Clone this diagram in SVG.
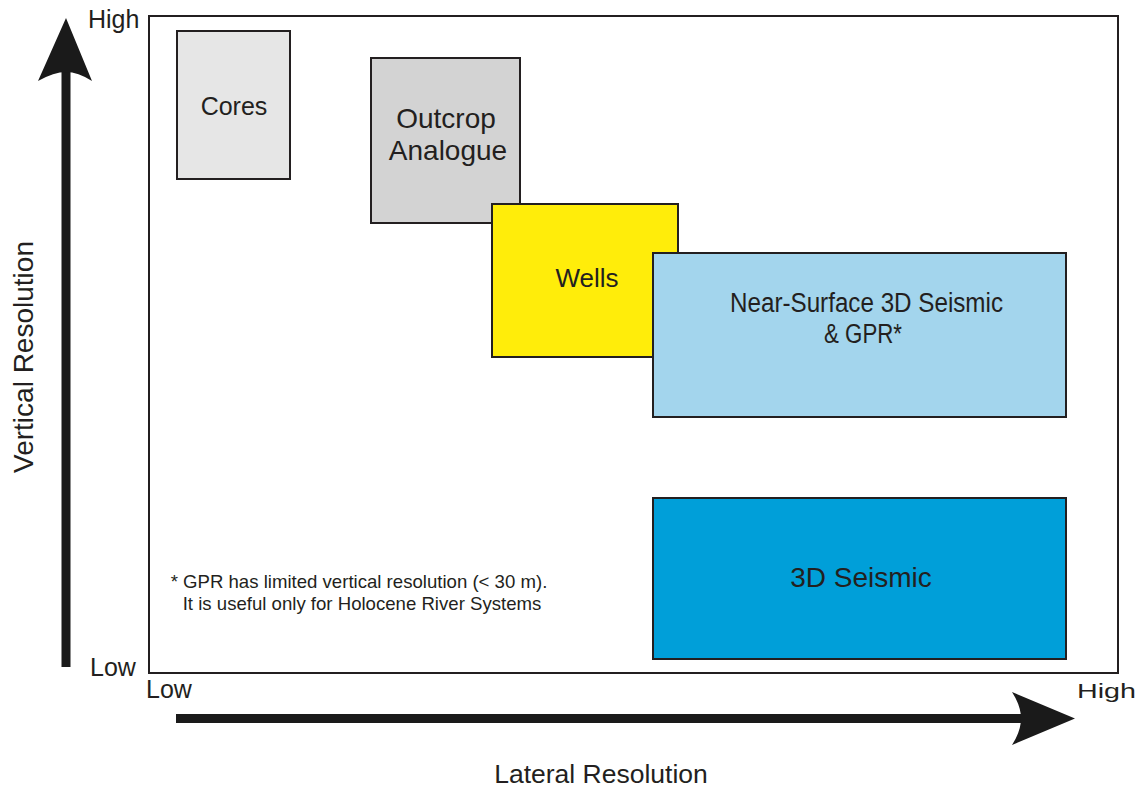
<svg xmlns="http://www.w3.org/2000/svg" width="1146" height="790" viewBox="0 0 1146 790">
  <style>
    text { font-family: "Liberation Sans", Arial, sans-serif; fill: #231f20; }
    .box { stroke: #231f20; stroke-width: 2; }
    .lbl { text-anchor: middle; }
    .axis { fill: #1a1a1a; }
  </style>
  <rect width="1146" height="790" fill="#ffffff"/>

  <!-- plot frame -->
  <rect x="149" y="16" width="969" height="657" fill="none" stroke="#231f20" stroke-width="2"/>

  <!-- axes arrows -->
  <g id="connectors">
    <rect class="axis" x="61.5" y="72" width="9" height="595"/>
    <path class="axis" d="M66 18 L92 81 Q78 72 66 72 Q54 72 38 81 Z"/>
    <rect class="axis" x="176" y="714" width="850" height="9"/>
    <path class="axis" d="M1075 718.5 L1012 745 Q1021 731 1021 718.5 Q1021 706 1012 692 Z"/>
  </g>

  <!-- axis labels -->
  <text x="88" y="28" font-size="25">High</text>
  <text x="90" y="676" font-size="25">Low</text>
  <text x="146" y="698" font-size="25">Low</text>
  <text x="1077" y="698" font-size="20" textLength="59" lengthAdjust="spacingAndGlyphs">High</text>
  <text transform="translate(33 357) rotate(-90)" class="lbl" font-size="28">Vertical Resolution</text>
  <text x="601" y="783" class="lbl" font-size="26.5">Lateral Resolution</text>

  <!-- data sources -->
  <g id="cores">
    <rect class="box" x="177" y="31" width="113" height="148" fill="#e6e6e6"/>
    <text x="234" y="115" class="lbl" font-size="25">Cores</text>
  </g>
  <g id="outcrop">
    <rect class="box" x="371" y="58" width="149" height="165" fill="#d3d3d3"/>
    <text x="446" y="128" class="lbl" font-size="28">Outcrop</text>
    <text x="448" y="160" class="lbl" font-size="28">Analogue</text>
  </g>
  <g id="wells">
    <rect class="box" x="492" y="204" width="186" height="153" fill="#ffed0a"/>
    <text x="587" y="287" class="lbl" font-size="26">Wells</text>
  </g>
  <g id="near-surface">
    <rect class="box" x="653" y="253" width="413" height="164" fill="#a3d5ed"/>
    <text x="866.5" y="312" class="lbl" font-size="27" textLength="273" lengthAdjust="spacingAndGlyphs">Near-Surface 3D Seismic</text>
    <text x="863" y="343" class="lbl" font-size="27" textLength="78" lengthAdjust="spacingAndGlyphs">&amp; GPR*</text>
  </g>
  <g id="seismic-3d">
    <rect class="box" x="653" y="498" width="413" height="161" fill="#009fd9"/>
    <text x="861" y="587" class="lbl" font-size="28">3D Seismic</text>
  </g>

  <!-- footnote -->
  <text x="359" y="588" class="lbl" font-size="18.6">* GPR has limited vertical resolution (&lt; 30 m).</text>
  <text x="362" y="610" class="lbl" font-size="18.6">It is useful only for Holocene River Systems</text>
</svg>
